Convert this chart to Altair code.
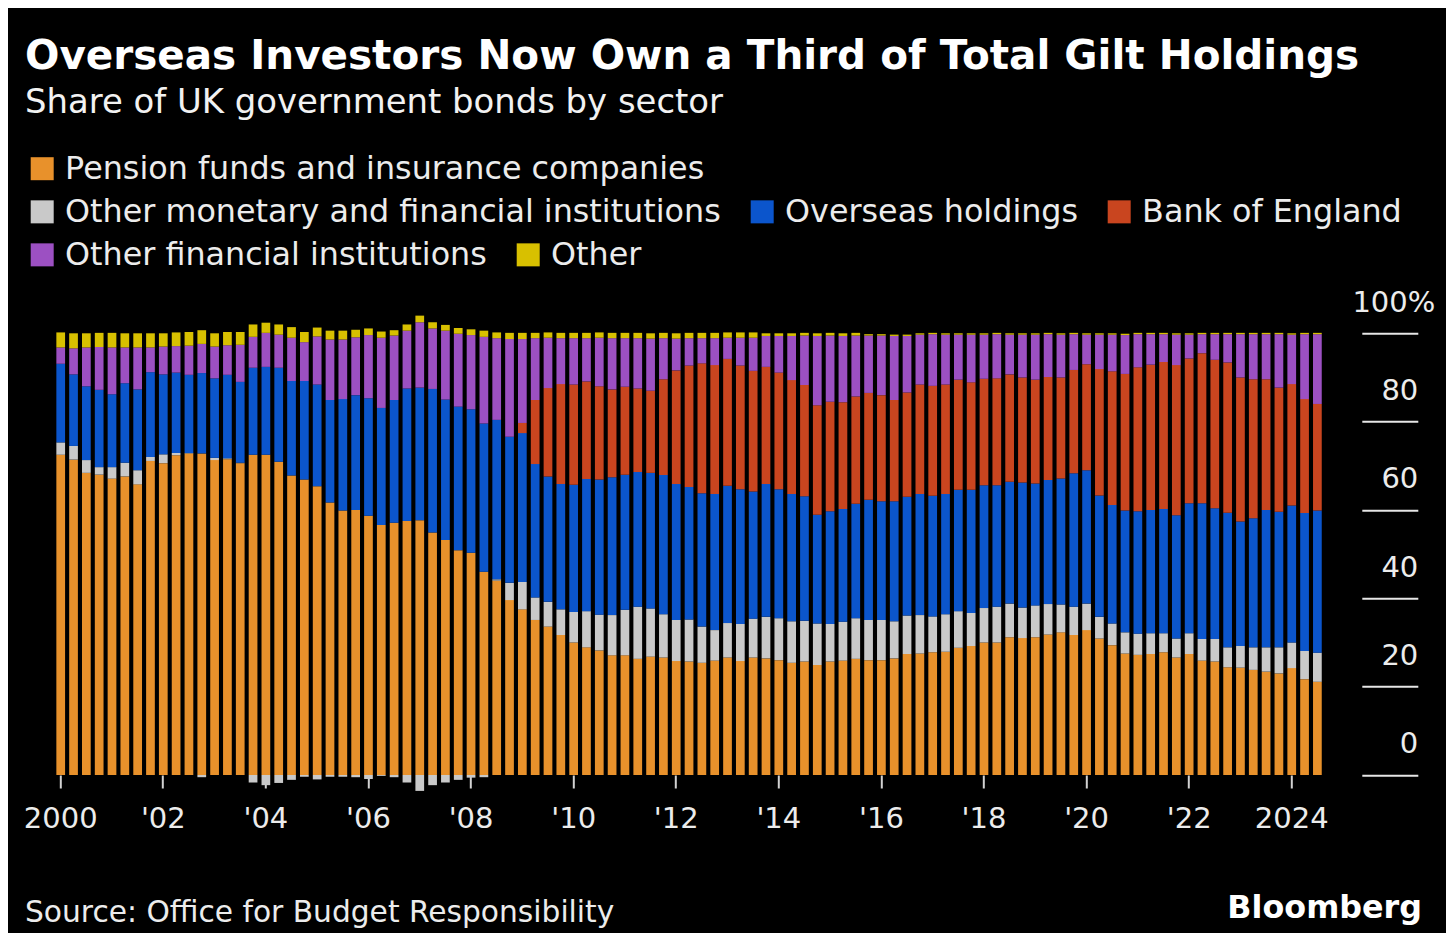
import altair as alt
import pandas as pd

OUTPUT_FILE = "out.html"

TITLE = "Overseas Investors Now Own a Third of Total Gilt Holdings"
SUBTITLE = "Share of UK government bonds by sector"
SOURCE = "Source: Office for Budget Responsibility"
BRAND = "Bloomberg"

FONT = "DejaVu Sans"
TEXT_COLOR = "#ececec"

# Quarterly observations, 2000 Q1 .. 2024 Q3
QUARTERS = [f"{y} Q{q}" for y in range(2000, 2025) for q in (1, 2, 3, 4)][:99]

SECTORS = [
    "Pension funds and insurance companies",
    "Other monetary and financial institutions",
    "Overseas holdings",
    "Bank of England",
    "Other financial institutions",
    "Other",
]
COLORS = ["#E8912B", "#C9C9C9", "#0B55CC", "#C9451F", "#9C50C2", "#D8C000"]

# share of gilt holdings, %
PENSION = [
    72.5, 71.4, 68.4, 68.0, 67.1, 67.6, 65.8, 71.1, 70.6, 72.4,
    72.8, 72.8, 71.3, 71.5, 70.6, 72.5, 72.5, 70.9, 67.8, 66.9,
    65.4, 61.7, 59.9, 60.0, 58.7, 56.6, 57.1, 57.5, 57.7, 54.9,
    53.2, 50.9, 50.3, 46.0, 44.0, 39.6, 37.5, 35.1, 33.6, 31.7,
    30.0, 28.9, 28.2, 27.1, 27.1, 26.3, 26.8, 26.6, 25.8, 25.7,
    25.4, 25.9, 26.6, 25.8, 26.6, 26.4, 26.0, 25.4, 25.7, 24.9,
    25.7, 25.9, 26.3, 26.0, 26.0, 26.4, 27.4, 27.5, 27.8, 27.9,
    28.8, 29.2, 30.0, 30.0, 31.2, 31.0, 31.2, 31.8, 32.3, 31.7,
    32.8, 30.9, 29.4, 27.5, 27.2, 27.4, 27.8, 26.6, 27.4, 25.9,
    25.7, 24.4, 24.3, 23.8, 23.4, 23.0, 24.2, 21.7, 21.1,
]
OTHER_MFI = [
    2.8, 3.1, 2.9, 1.7, 2.6, 3.1, 3.2, 0.9, 2.0, 0.5,
    0.1, -0.5, 0.5, 0.2, 0.1, -1.7, -2.3, -1.8, -1.1, -0.4,
    -1.0, -0.4, -0.4, -0.5, -0.9, -0.2, -0.5, -1.7, -3.6, -2.3,
    -1.7, -1.1, -0.6, -0.5, 0.3, 3.9, 6.2, 5.1, 5.6, 5.8,
    6.9, 8.2, 8.1, 9.1, 10.3, 11.8, 10.9, 9.8, 9.3, 9.5,
    8.2, 6.9, 7.8, 8.4, 8.8, 9.4, 9.5, 9.4, 9.2, 9.4,
    8.5, 8.8, 9.2, 9.1, 9.1, 8.4, 8.7, 8.7, 8.1, 8.5,
    8.3, 7.5, 7.8, 8.1, 7.6, 6.9, 7.2, 6.9, 6.3, 6.4,
    6.0, 4.9, 4.9, 4.8, 4.8, 4.7, 4.3, 4.3, 4.7, 4.9,
    5.1, 4.5, 4.9, 5.1, 5.5, 5.9, 5.8, 6.4, 6.6,
]
OVERSEAS = [
    17.8, 16.2, 16.7, 17.5, 16.5, 18.0, 18.3, 19.2, 18.1, 18.2,
    17.7, 18.2, 18.0, 18.9, 18.3, 19.7, 19.9, 21.3, 21.4, 22.3,
    23.0, 23.2, 25.2, 26.0, 26.6, 26.5, 27.8, 30.0, 30.0, 32.5,
    31.8, 32.5, 32.5, 33.6, 36.1, 33.1, 33.7, 30.2, 28.4, 28.4,
    28.8, 29.9, 30.6, 31.2, 30.6, 30.5, 30.7, 31.5, 30.8, 30.0,
    30.2, 30.8, 31.1, 30.5, 28.8, 30.1, 29.2, 28.8, 28.2, 24.6,
    25.5, 25.5, 25.9, 27.2, 26.9, 27.2, 26.9, 27.4, 27.3, 27.2,
    27.5, 27.9, 27.8, 27.5, 27.6, 28.3, 27.6, 28.1, 28.5, 30.2,
    30.2, 27.5, 26.8, 27.6, 27.7, 27.9, 28.1, 27.9, 29.4, 30.7,
    29.6, 30.5, 28.2, 29.2, 31.1, 30.7, 31.0, 31.2, 32.2,
]
BANK_OF_ENGLAND = [
    0.0, 0.0, 0.0, 0.0, 0.0, 0.0, 0.0, 0.0, 0.0, 0.0,
    0.0, 0.0, 0.0, 0.0, 0.0, 0.0, 0.0, 0.0, 0.0, 0.0,
    0.0, 0.0, 0.0, 0.0, 0.0, 0.0, 0.0, 0.0, 0.0, 0.0,
    0.0, 0.0, 0.0, 0.0, 0.0, 0.0, 2.3, 14.5, 20.0, 22.6,
    22.7, 22.1, 21.1, 19.9, 19.9, 18.9, 18.6, 21.7, 25.7, 27.5,
    29.4, 29.2, 28.7, 28.0, 27.3, 26.5, 26.4, 25.8, 25.2, 24.8,
    24.8, 24.2, 24.3, 24.2, 24.0, 22.9, 23.6, 24.8, 24.9, 24.8,
    24.9, 24.3, 24.1, 24.2, 24.3, 23.8, 23.5, 23.3, 22.9, 23.4,
    24.0, 28.6, 30.3, 30.9, 32.6, 32.9, 33.3, 34.0, 32.8, 34.0,
    33.6, 34.0, 32.6, 31.5, 29.6, 28.1, 27.5, 25.8, 24.1,
]
OTHER_FI = [
    3.7, 5.9, 8.8, 9.7, 10.6, 8.1, 9.5, 5.6, 6.3, 6.0,
    6.6, 6.6, 7.2, 6.7, 8.4, 7.0, 7.7, 7.5, 9.8, 8.8,
    10.9, 13.7, 13.5, 13.1, 14.3, 15.9, 14.6, 13.1, 14.8, 13.7,
    15.6, 16.5, 16.8, 19.6, 18.5, 22.1, 19.0, 14.0, 11.4, 10.4,
    10.5, 9.8, 11.0, 11.6, 11.0, 11.4, 11.8, 9.3, 7.2, 6.2,
    5.7, 6.1, 4.8, 6.3, 7.5, 7.0, 8.3, 10.0, 11.2, 15.7,
    15.0, 15.0, 13.8, 13.0, 13.5, 14.5, 12.8, 11.3, 11.7, 11.3,
    10.2, 10.8, 10.0, 10.0, 9.0, 9.7, 10.2, 9.7, 9.7, 8.1,
    6.7, 7.8, 8.3, 8.8, 7.5, 6.9, 6.3, 6.9, 5.4, 4.3,
    5.8, 6.4, 9.8, 10.2, 10.2, 12.1, 11.2, 14.7, 15.8,
]
OTHER = [
    3.4, 3.4, 3.2, 3.2, 3.3, 3.2, 3.2, 3.2, 3.0, 3.1,
    3.1, 3.1, 3.0, 3.0, 2.9, 2.8, 2.3, 2.3, 2.4, 2.3,
    2.0, 2.0, 2.0, 1.7, 1.5, 1.4, 1.2, 1.4, 1.5, 1.4,
    1.3, 1.3, 1.3, 1.4, 1.3, 1.4, 1.4, 1.2, 1.2, 1.2,
    1.2, 1.2, 1.2, 1.2, 1.2, 1.2, 1.2, 1.2, 1.2, 1.2,
    1.2, 1.2, 1.2, 1.2, 1.2, 0.6, 0.6, 0.6, 0.6, 0.6,
    0.6, 0.6, 0.6, 0.3, 0.3, 0.3, 0.3, 0.3, 0.3, 0.3,
    0.3, 0.3, 0.3, 0.3, 0.3, 0.3, 0.3, 0.3, 0.3, 0.3,
    0.3, 0.3, 0.3, 0.3, 0.3, 0.3, 0.3, 0.3, 0.3, 0.3,
    0.3, 0.3, 0.3, 0.3, 0.3, 0.3, 0.3, 0.3, 0.3,
]

SERIES = [PENSION, OTHER_MFI, OVERSEAS, BANK_OF_ENGLAND, OTHER_FI, OTHER]

# legend rows as drawn in the original
LEGEND_ROWS = [
    [SECTORS[0]],
    [SECTORS[1], SECTORS[2], SECTORS[3]],
    [SECTORS[4], SECTORS[5]],
]

rows = []
for order, (sector, values) in enumerate(zip(SECTORS, SERIES)):
    for quarter, share in zip(QUARTERS, values):
        rows.append({"quarter": quarter, "sector": sector, "share": share, "order": order})
df = pd.DataFrame(rows)

PLOT_W = 1269.5
PLOT_H = 441.7

x_axis = alt.Axis(
    title=None,
    values=[f"{y} Q1" for y in range(2000, 2025, 2)],
    labelExpr=(
        "(slice(datum.value, 0, 4) == '2000' || slice(datum.value, 0, 4) == '2024')"
        " ? slice(datum.value, 0, 4) : \"'\" + slice(datum.value, 2, 4)"
    ),
    labelAngle=0,
    labelFont=FONT,
    labelFontSize=29,
    labelColor=TEXT_COLOR,
    labelPadding=17,
    tickSize=13,
    tickWidth=2,
    tickColor="#d2d2d2",
    domain=False,
    grid=False,
)

y_axis = alt.Axis(
    title=None,
    orient="right",
    values=[0, 20, 40, 60, 80, 100],
    labelExpr="datum.value == 100 ? '100%' : datum.label",
    labelFont=FONT,
    labelFontSize=29,
    labelColor=TEXT_COLOR,
    labelAlign="right",
    labelBaseline="alphabetic",
    labelOffset=-22,
    labelPadding={"condition": {"test": "datum.value == 100", "value": 17}, "value": 0},
    offset=38,
    tickSize=56,
    tickWidth=2,
    tickColor="#e6e6e6",
    domain=False,
    grid=False,
)

x_scale = alt.Scale(domain=QUARTERS, paddingInner=0.32, paddingOuter=0.16)
y_scale = alt.Scale(domain=[0, 100], nice=False, zero=False)

stacked = alt.Chart(df).transform_stack(
    stack="share",
    groupby=["quarter"],
    sort=[alt.SortField("order", order="ascending")],
    as_=["y0", "y1"],
)


def sector_layer(names, row):
    colors = [COLORS[SECTORS.index(n)] for n in names]
    return (
        stacked.transform_filter(alt.FieldOneOfPredicate(field="sector", oneOf=names))
        .mark_bar(strokeWidth=0)
        .encode(
            x=alt.X("quarter:O", scale=x_scale, axis=x_axis, sort=QUARTERS),
            y=alt.Y("y0:Q", scale=y_scale, axis=y_axis),
            y2="y1:Q",
            color=alt.Color(
                "sector:N",
                scale=alt.Scale(domain=names, range=colors),
                sort=names,
                legend=alt.Legend(
                    title=None,
                    orient="none",
                    direction="horizontal",
                    legendX=-28,
                    legendY=-180.5 + 43 * row,
                    symbolType="square",
                    symbolSize=529,
                    symbolStrokeWidth=0,
                    symbolOpacity=1,
                    labelFont=FONT,
                    labelFontSize=31.8,
                    labelColor=TEXT_COLOR,
                    labelOffset=7,
                    labelLimit=2000,
                    columnPadding=25,
                    padding=0,
                ),
            ),
            tooltip=[
                alt.Tooltip("quarter:O", title="Quarter"),
                alt.Tooltip("sector:N", title="Sector"),
                alt.Tooltip("share:Q", title="Share (%)", format=".1f"),
            ],
        )
    )


bars = [sector_layer(names, i) for i, names in enumerate(LEGEND_ROWS)]

source = (
    alt.Chart(pd.DataFrame({"t": [SOURCE]}))
    .mark_text(font=FONT, fontSize=29.7, color=TEXT_COLOR, align="left", baseline="alphabetic")
    .encode(x=alt.value(-29.3), y=alt.value(588.7), text="t:N")
)

brand = (
    alt.Chart(pd.DataFrame({"t": [BRAND]}))
    .mark_text(font=FONT, fontSize=31.8, fontWeight="bold", color="#ffffff",
               align="right", baseline="alphabetic")
    .encode(x=alt.value(1367.7), y=alt.value(584.7), text="t:N")
)

chart = (
    alt.layer(*bars, source, brand)
    .resolve_scale(color="independent")
    .properties(
        width=PLOT_W,
        height=PLOT_H,
        autosize=alt.AutoSizeParams(type="none"),
        padding={"left": 46.3, "top": 325.3, "right": 122, "bottom": 158},
        title=alt.TitleParams(
            TITLE,
            subtitle=SUBTITLE,
            anchor="start",
            frame="group",
            dx=-29.3,
            offset=33,
            font=FONT,
            fontSize=40.5,
            fontWeight="bold",
            color="#ffffff",
            subtitleFont=FONT,
            subtitleFontSize=33.9,
            subtitleColor="#f2f2f2",
            subtitlePadding=8,
        ),
    )
    .configure(background="#000000")
    .configure_view(strokeWidth=0)
)

chart.save(OUTPUT_FILE, embed_options={"renderer": "svg", "actions": False})
